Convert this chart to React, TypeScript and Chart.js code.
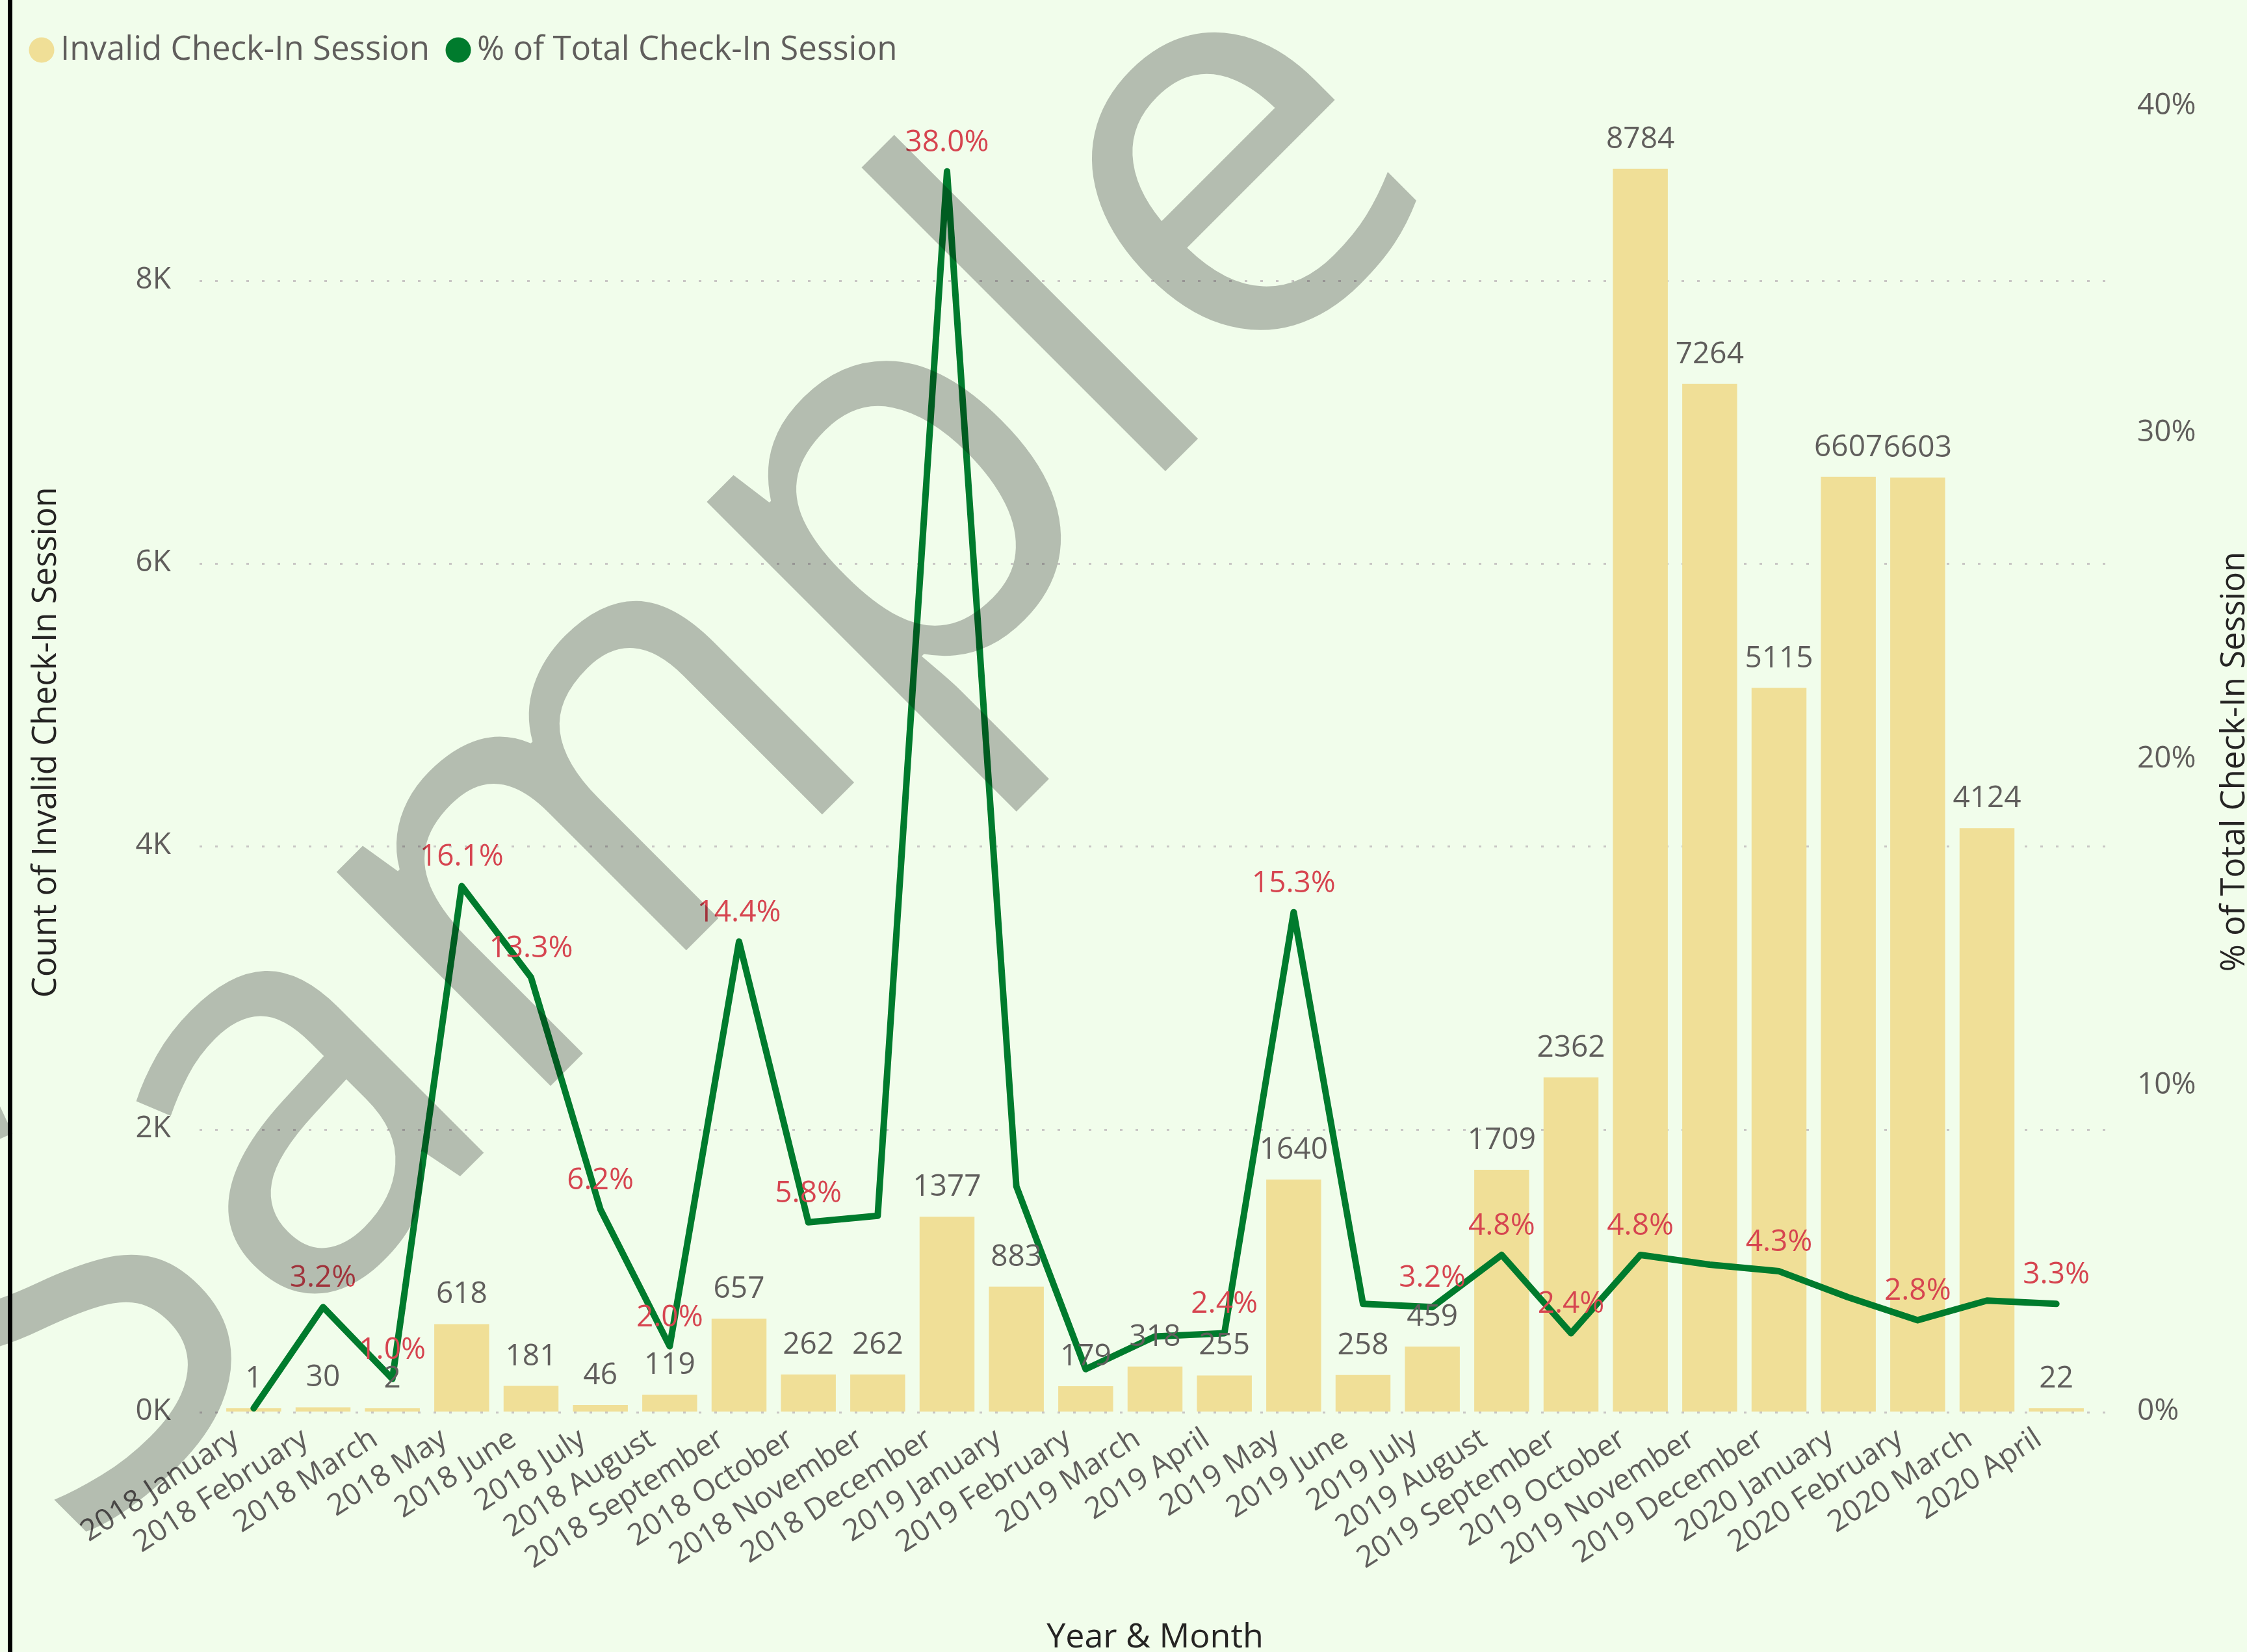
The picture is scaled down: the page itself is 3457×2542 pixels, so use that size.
import React, { useEffect, useRef } from "react";
import { Chart, registerables } from "chart.js";

Chart.register(...registerables);

const categories = [
  "2018 January", "2018 February", "2018 March", "2018 May", "2018 June", "2018 July",
  "2018 August", "2018 September", "2018 October", "2018 November", "2018 December",
  "2019 January", "2019 February", "2019 March", "2019 April", "2019 May", "2019 June",
  "2019 July", "2019 August", "2019 September", "2019 October", "2019 November",
  "2019 December", "2020 January", "2020 February", "2020 March", "2020 April",
];

const invalidCounts = [
  1, 30, 2, 618, 181, 46, 119, 657, 262, 262, 1377, 883, 179, 318, 255, 1640, 258, 459,
  1709, 2362, 8784, 7264, 5115, 6607, 6603, 4124, 22,
];

const pctOfTotal = [
  0.1, 3.2, 1.0, 16.1, 13.3, 6.2, 2.0, 14.4, 5.8, 6.0, 38.0, 6.9, 1.3, 2.3, 2.4, 15.3, 3.3,
  3.2, 4.8, 2.4, 4.8, 4.5, 4.3, 3.5, 2.8, 3.4, 3.3,
];

const showPctLabel = [
  false, true, true, true, true, true, true, true, true, false, true, false, false, false,
  true, true, false, true, true, true, true, false, true, false, true, false, true,
];

const leftTicks = [0, 2000, 4000, 6000, 8000];
const rightTicks = [0, 10, 20, 30, 40];

const BAR_COLOR = "#F0DF97";
const LINE_COLOR = "#007B2D";
const RED = "#D64550";
const GREY = "#605E5C";
const DARK = "#252423";
const BG = "#F1FDEB";
const FONT = "'Open Sans', 'Noto Sans', sans-serif";

const gridPlugin = {
  id: "dottedGrid",
  beforeDatasetsDraw(chart: any) {
    const { ctx, chartArea } = chart;
    const y = chart.scales.y;
    ctx.save();
    ctx.strokeStyle = "#C8C6C4";
    ctx.lineWidth = 3;
    ctx.setLineDash([4, 20]);
    leftTicks.forEach((v) => {
      const py = Math.round(y.getPixelForValue(v)) + 1.5;
      ctx.beginPath();
      ctx.moveTo(chartArea.left - 30, py);
      ctx.lineTo(chartArea.right + 22, py);
      ctx.stroke();
    });
    ctx.restore();
  },
};

const labelPlugin = {
  id: "valueLabels",
  afterDatasetsDraw(chart: any) {
    const ctx = chart.ctx;
    const barMeta = chart.getDatasetMeta(0);
    const lineMeta = chart.getDatasetMeta(1);
    ctx.save();
    ctx.font = `46px ${FONT}`;
    ctx.textAlign = "center";
    ctx.textBaseline = "alphabetic";
    ctx.fillStyle = GREY;
    barMeta.data.forEach((el: any, i: number) => {
      ctx.fillText(String(invalidCounts[i]), el.x, el.y - 32);
    });
    ctx.fillStyle = RED;
    lineMeta.data.forEach((el: any, i: number) => {
      if (showPctLabel[i]) ctx.fillText(pctOfTotal[i].toFixed(1) + "%", el.x, el.y - 31);
    });
    ctx.restore();
  },
};

const rightTitlePlugin = {
  id: "rightTitle",
  afterDraw(chart: any) {
    const { ctx } = chart;
    ctx.save();
    ctx.translate(3438, 1172);
    ctx.rotate(-Math.PI / 2);
    ctx.font = `51px ${FONT}`;
    ctx.fillStyle = DARK;
    ctx.textAlign = "center";
    ctx.textBaseline = "middle";
    ctx.fillText("% of Total Check-In Session", 0, 0);
    ctx.restore();
  },
};

const watermarkPlugin = {
  id: "watermark",
  afterDraw(chart: any) {
    const ctx = chart.ctx;
    ctx.save();
    ctx.font = `870px ${FONT}`;
    const pre = ctx.measureText("Samp").width;
    const lw = ctx.measureText("l").width;
    const d = pre + lw / 2;
    const c = Math.SQRT1_2;
    const sx = 1818 - d * c;
    const sy = 700 + d * c;
    ctx.translate(sx, sy);
    ctx.rotate(-Math.PI / 4);
    ctx.fillStyle = "rgba(0,0,0,0.25)";
    ctx.textAlign = "left";
    ctx.textBaseline = "alphabetic";
    ctx.fillText("Sample", 0, 0);
    ctx.restore();
  },
};

export default function App() {
  const canvasRef = useRef<HTMLCanvasElement | null>(null);

  useEffect(() => {
    if (!canvasRef.current) return;
    Chart.defaults.font.family = FONT;
    const colors = [BAR_COLOR, LINE_COLOR];
    const chart = new Chart(canvasRef.current, {
      type: "bar",
      data: {
        labels: categories,
        datasets: [
          {
            type: "bar",
            label: "Invalid Check-In Session",
            data: invalidCounts,
            backgroundColor: BAR_COLOR,
            yAxisID: "y",
            order: 1,
            barPercentage: 0.792,
            categoryPercentage: 1,
            minBarLength: 5,
          } as any,
          {
            type: "line",
            label: "% of Total Check-In Session",
            data: pctOfTotal,
            borderColor: LINE_COLOR,
            backgroundColor: LINE_COLOR,
            borderWidth: 10,
            pointRadius: 0,
            pointHoverRadius: 0,
            yAxisID: "y1",
            order: 0,
            tension: 0,
            borderJoinStyle: "round",
            borderCapStyle: "round",
          } as any,
        ],
      },
      options: {
        animation: false,
        responsive: false,
        maintainAspectRatio: false,
        devicePixelRatio: 1,
        layout: { padding: { left: 20, top: 11, right: 0, bottom: 0 } },
        plugins: {
          tooltip: { enabled: false },
          legend: {
            position: "top",
            align: "start",
            labels: {
              usePointStyle: true,
              pointStyle: "circle",
              boxWidth: 7,
              boxHeight: 27.6,
              padding: 40.5,
              color: GREY,
              font: { size: 51, family: FONT },
              sort: (a: any, b: any) => a.datasetIndex - b.datasetIndex,
              generateLabels: (ch: any) =>
                (Chart.defaults.plugins.legend.labels as any)
                  .generateLabels(ch)
                  .map((l: any) => ({
                    ...l,
                    lineWidth: 0,
                    fillStyle: colors[l.datasetIndex],
                    strokeStyle: colors[l.datasetIndex],
                    pointStyle: "circle",
                  })),
            },
          },
        },
        scales: {
          x: {
            type: "category",
            offset: true,
            grid: { display: false, drawTicks: false },
            border: { display: false },
            ticks: {
              autoSkip: false,
              maxRotation: 33,
              minRotation: 33,
              padding: 15,
              labelOffset: -27,
              color: GREY,
              font: { size: 46, family: FONT },
            },
            title: {
              display: true,
              text: "Year & Month",
              color: DARK,
              font: { size: 52, family: FONT, lineHeight: 0.85 },
              padding: { top: 0, bottom: 0 },
            },
            afterFit: (s: any) => {
              s.height = 370;
            },
          },
          y: {
            type: "linear",
            position: "left",
            min: 0,
            max: 9461,
            grid: { display: false, drawTicks: false },
            border: { display: false },
            ticks: {
              padding: 74,
              color: GREY,
              font: { size: 46, family: FONT },
              callback: (v: any) => Number(v) / 1000 + "K",
            },
            afterBuildTicks: (s: any) => {
              s.ticks = leftTicks.map((v) => ({ value: v }));
            },
            title: {
              display: true,
              text: "Count of Invalid Check-In Session",
              color: DARK,
              font: { size: 51, family: FONT },
              padding: { top: 21, bottom: 0 },
            },
            afterFit: (s: any) => {
              s.width = 317;
            },
          },
          y1: {
            type: "linear",
            position: "right",
            min: 0,
            max: 41.01,
            grid: { display: false, drawTicks: false },
            border: { display: false },
            ticks: {
              padding: 71,
              color: GREY,
              font: { size: 46, family: FONT },
              callback: (v: any) => v + "%",
            },
            afterBuildTicks: (s: any) => {
              s.ticks = rightTicks.map((v) => ({ value: v }));
            },
            afterFit: (s: any) => {
              s.width = 240;
            },
          },
        },
      } as any,
      plugins: [gridPlugin, labelPlugin, rightTitlePlugin, watermarkPlugin],
    });
    return () => chart.destroy();
  }, []);

  return (
    <div
      style={{
        position: "fixed",
        left: 0,
        top: 0,
        width: 3457,
        height: 2542,
        background: BG,
        overflow: "hidden",
      }}
    >
      <canvas
        ref={canvasRef}
        width={3457}
        height={2542}
        style={{ position: "absolute", left: 0, top: 0, width: 3457, height: 2542 }}
      />
      <div
        style={{
          position: "absolute",
          left: 12,
          top: 0,
          width: 7,
          height: 2542,
          background: "#000",
        }}
      />
    </div>
  );
}
